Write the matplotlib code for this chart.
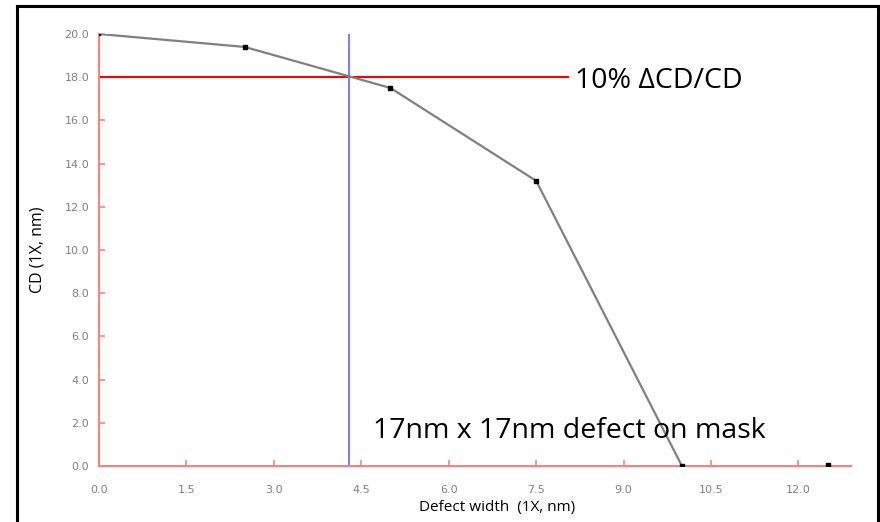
import matplotlib.pyplot as plt
from matplotlib.lines import Line2D

defect_width = [0.0, 2.5, 5.0, 7.5, 10.0, 12.5]
cd = [20.0, 19.4, 17.5, 13.2, 0.0, 0.05]
x_ticks = [0.0, 1.5, 3.0, 4.5, 6.0, 7.5, 9.0, 10.5, 12.0]
y_ticks = [0.0, 2.0, 4.0, 6.0, 8.0, 10.0, 12.0, 14.0, 16.0, 18.0, 20.0]
cd_limit = 18.0
limit_width = 4.29

plt.rcParams['font.family'] = ['Open Sans', 'DejaVu Sans']

fig = plt.figure(figsize=(8.8, 5.22), dpi=100)
ax = fig.add_axes([0.1125, 0.1073, 0.8545, 0.8276])

# curve (line stops at 10, last point sits on the axis)
ax.plot(defect_width[:5], cd[:5], '-', color='#808080', lw=1.6, zorder=3)
ax.plot(defect_width[1:], cd[1:], 's', color='black', ms=3.5, zorder=4)
ax.plot(defect_width[0], cd[0], 's', color='black', ms=2, zorder=4)

# 10% CD limit and the corresponding width
ax.plot([0, 8.05], [cd_limit, cd_limit], color='red', lw=1.5, zorder=2)
ax.plot([limit_width, limit_width], [0, 20], color='#7f7fff', lw=1.5, zorder=2)

ax.set_xlim(0, 12.9)
ax.set_ylim(0, 20)
ax.set_xticks(x_ticks)
ax.set_yticks(y_ticks)
ax.set_xticklabels([f'{t:.1f}' for t in x_ticks])
ax.set_yticklabels([f'{t:.1f}' for t in y_ticks])
for s in ['top', 'right']:
    ax.spines[s].set_visible(False)
for s in ['left', 'bottom']:
    ax.spines[s].set_color('#ff7f7f')
    ax.spines[s].set_linewidth(1.5)
ax.tick_params(direction='in', length=4, width=1.2, color='#ff7f7f',
               labelcolor='#808080', labelsize=8)
ax.tick_params(axis='x', pad=14)
ax.tick_params(axis='y', pad=7)
for lab in ax.get_xticklabels() + ax.get_yticklabels():
    lab.set_family('DejaVu Sans')

ax.set_xlabel('Defect width  (1X, nm)', fontsize=11)
ax.xaxis.set_label_coords(0.53, -0.078)
ax.set_ylabel('CD (1X, nm)', fontsize=11.5, labelpad=14)

fig.text(575 / 880, 1 - 88 / 522, '10% \u2206CD/CD', fontsize=20.5, va='baseline', ha='left')
fig.text(373 / 880, 1 - 438 / 522, '17nm x 17nm defect on mask', fontsize=20.5, va='baseline', ha='left')

# black frame around the picture (open at the bottom)
frame = dict(color='black', lw=2.2, transform=fig.transFigure)
fig.add_artist(Line2D([17 / 880, 17 / 880], [0, 1 - 6 / 522], **frame))
fig.add_artist(Line2D([17 / 880, 878 / 880], [1 - 6 / 522, 1 - 6 / 522], **frame))
fig.add_artist(Line2D([878 / 880, 878 / 880], [0, 1 - 6 / 522], **frame))

fig.savefig('out.png', dpi=100)
